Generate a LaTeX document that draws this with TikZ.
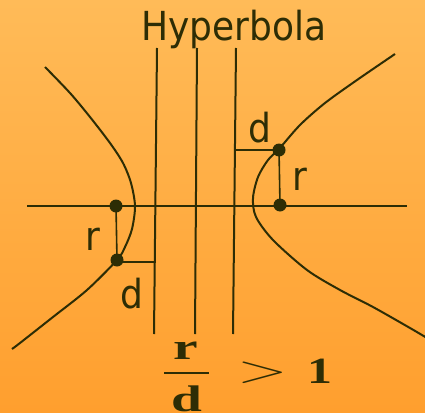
\documentclass[tikz,border=0pt]{standalone}
\usepackage{fontspec}
\newfontfamily\lblfont{DejaVu Sans}
\newfontfamily\frcfont{Liberation Serif}
\definecolor{ink}{RGB}{45,45,5}
\definecolor{bgtop}{RGB}{255,187,88}
\definecolor{bgbot}{RGB}{255,159,46}
\begin{document}
\begin{tikzpicture}[x=1pt,y=-1pt,
  curve/.style={ink,line width=2pt},
  rule/.style={ink,line width=2pt},
  link/.style={ink,line width=1.6pt},
  dot/.style={circle,fill=ink,inner sep=0pt,minimum size=13pt},
  lbl/.style={ink,inner sep=0pt,anchor=base,xscale=0.9,font=\lblfont\fontsize{40}{40}\selectfont},
  frc/.style={ink,inner sep=0pt,anchor=base,xscale=1.5,font=\frcfont\bfseries\fontsize{37}{37}\selectfont}]
\shade[top color=bgtop,bottom color=bgbot] (0,0) rectangle (425,412);
\useasboundingbox (0,0) rectangle (425,412);
% title
\node[lbl] (title) at (234,41) {Hyperbola};
% axis
\coordinate (axL) at (27,206);
\coordinate (axR) at (407,206);
\draw[rule] (axL) -- (axR);
% vertical lines
\coordinate (v1t) at (157,48); \coordinate (v1b) at (154,334);
\coordinate (v2t) at (197,48); \coordinate (v2b) at (195,334);
\coordinate (v3t) at (236,48); \coordinate (v3b) at (233,334);
\draw[rule] (v1t) -- (v1b);
\draw[rule] (v2t) -- (v2b);
\draw[rule] (v3t) -- (v3b);
% branches
\draw[curve] plot[smooth] coordinates {(45,67) (70,93) (90,117) (110,143) (123,163) (131,183) (135,206) (132,229) (125,247) (117,260) (87,290) (53,317) (20,343) (12,349)};
\draw[curve] plot[smooth] coordinates {(395,54) (357,80) (325,103) (300,125) (279,149) (268,160) (258,177) (253,198) (256,217) (273,240) (307,270) (340,290) (373,307) (410,328) (427,338)};
% dots
\node[dot] (pL) at (116,206) {};
\node[dot] (qL) at (117,260) {};
\node[dot] (pR) at (279,150) {};
\node[dot] (qR) at (280,205) {};
\coordinate (hL) at (154.5,262);
\coordinate (hR) at (235,150);
\draw[link] (pL.center) -- (qL.center);
\draw[link] (qL.center) -- (qL.center |- hL) -- (hL);
\draw[link] (hR) -- (pR.center);
\draw[link] (pR.center) -- (qR.center);
% labels
\node[lbl] (dR) at (260,142) {d};
\node[lbl] (rR) at (300,190) {r};
\node[lbl] (rL) at (93,250) {r};
\node[lbl] (dL) at (132,308) {d};
% fraction
\node[frc] (num) at (186,359) {r};
\coordinate (barL) at (164,373);
\coordinate (barR) at (209,373);
\draw[ink,line width=2.2pt] (barL) -- (barR);
\node[frc] (den) at (187,411) {d};
\node[ink,inner sep=0pt,xscale=1.7,font=\fontsize{39}{39}\selectfont] (gt) at (262.5,373) {>};
\node[frc,xscale=0.9] (one) at (320,383) {1};
\end{tikzpicture}
\end{document}
